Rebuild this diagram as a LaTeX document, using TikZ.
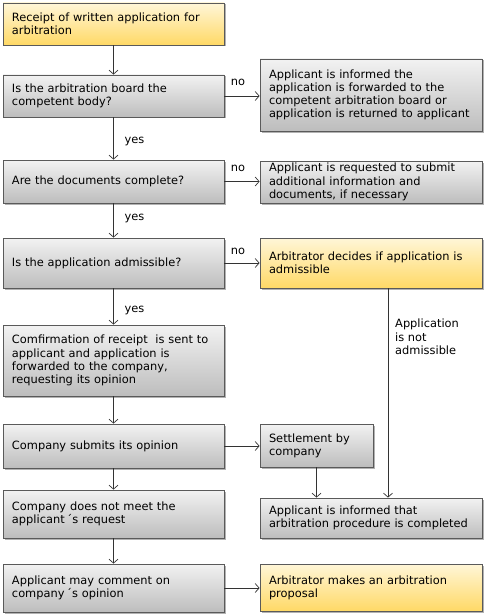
\documentclass[tikz,border=0pt]{standalone}
\usepackage{fontspec}
\setmainfont{DejaVu Sans}
\usetikzlibrary{arrows.meta,shadows}
\definecolor{gtop}{HTML}{F2F2F2}
\definecolor{gbot}{HTML}{BDBDBD}
\definecolor{ytop}{HTML}{FFF6D8}
\definecolor{ybot}{HTML}{FFD966}
\definecolor{bord}{HTML}{5A5A5A}
\tikzset{
  x=1pt, y=-1pt,
  base/.style={draw=bord, line width=0.8pt, align=left, inner sep=0pt,
    font=\fontsize{11.4}{13.2}\selectfont,
    drop shadow={shadow xshift=1.5pt, shadow yshift=-1.5pt, fill=black, opacity=0.3}},
  graybox/.style={base, top color=gtop, bottom color=gbot},
  yelbox/.style={base, top color=ytop, bottom color=ybot},
  lcol/.style={minimum width=221pt, text width=203pt},
  rcol/.style={minimum width=222pt, text width=204pt},
  arr/.style={draw=black!80, line width=0.7pt, -{Straight Barb[length=4pt,width=9pt]}},
  lbl/.style={font=\fontsize{11.4}{13.2}\selectfont, inner sep=0pt, align=left},
}
\begin{document}
\begin{tikzpicture}
\useasboundingbox (0,0) rectangle (485,615);
% left column
\node[yelbox, lcol, minimum height=42pt] (b1) at (113.5,24) {Receipt of written application for\\arbitration};
\node[graybox, lcol, minimum height=42pt] (b2) at (113.5,96) {Is the arbitration board the\\competent body?};
\node[graybox, lcol, minimum height=43pt] (b3) at (113.5,181.5) {Are the documents complete?};
\node[graybox, lcol, minimum height=50pt] (b4) at (113.5,263) {Is the application admissible?};
\node[graybox, lcol, minimum height=71pt] (b5) at (113.5,360.5) {Comfirmation of receipt \ is sent to\\applicant and application is\\forwarded to the company,\\requesting its opinion};
\node[graybox, lcol, minimum height=44pt] (b6) at (113.5,446) {Company submits its opinion};
\node[graybox, lcol, minimum height=48pt] (b7) at (113.5,514) {Company does not meet the\\applicant\,´s request};
\node[graybox, lcol, minimum height=48pt] (b8) at (113.5,588) {Applicant may comment on\\company\,´s opinion};
% right column
\node[graybox, rcol, minimum height=72pt] (r1) at (371,95) {Applicant is informed the\\application is forwarded to the\\competent arbitration board or\\application is returned to applicant};
\node[graybox, rcol, minimum height=42pt] (r2) at (371,182) {Applicant is requested to submit\\additional information and\\documents, if necessary};
\node[yelbox, rcol, minimum height=50pt] (r3) at (371,263) {Arbitrator decides if application is\\admissible};
\node[graybox, minimum width=113pt, text width=95pt, minimum height=43pt] (r4) at (316.5,445.5) {Settlement by\\company};
\node[graybox, rcol, minimum height=40pt] (r5) at (371,518) {Applicant is informed that\\arbitration procedure is completed};
\node[yelbox, rcol, minimum height=47pt] (r6) at (371,587.5) {Arbitrator makes an arbitration\\proposal};
% vertical arrows left
\draw[arr] (b1) -- (b2);
\draw[arr] (b2) -- (b3);
\draw[arr] (b3) -- (b4);
\draw[arr] (b4) -- (b5);
\draw[arr] (b5) -- (b6);
\draw[arr] (b6) -- (b7);
\draw[arr] (b7) -- (b8);
% horizontal arrows
\draw[arr] (b2.east) -- (b2.east -| r1.west);
\draw[arr] (b3.east) -- (b3.east -| r2.west);
\draw[arr] (b4.east) -- (r3.west);
\draw[arr] (b6.east) -- (b6.east -| r4.west);
\draw[arr] (b8.east) -- (b8.east -| r6.west);
% right verticals
\coordinate (c1) at (388,288);
\draw[arr] (r3.south -| c1) -- (r5.north -| c1);
\draw[arr] (r4.south) -- (r4.south |- r5.north);
% labels
\node[lbl] (n1) at (238,82) {no};
\node[lbl] (n2) at (238,168) {no};
\node[lbl] (n3) at (238,251) {no};
\node[lbl] (y1) at (134.5,141) {yes};
\node[lbl] (y2) at (134.5,218) {yes};
\node[lbl] (y3) at (134.5,310) {yes};
\node[lbl, anchor=north west] (na) at (395,319) {Application\\is not\\admissible};
\end{tikzpicture}
\end{document}
